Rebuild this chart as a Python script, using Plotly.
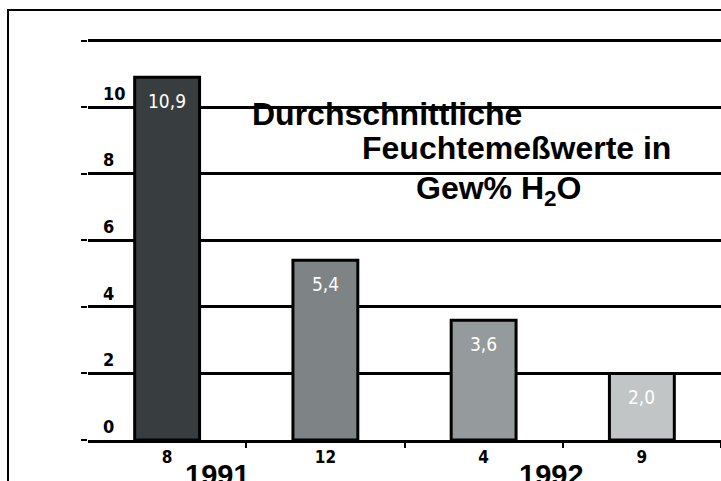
import plotly.graph_objects as go

# Data
sample_counts = ["8", "12", "4", "9"]          # x tick labels (number of samples)
moisture = [10.9, 5.4, 3.6, 2.0]               # Gew% H2O
bar_colors = ["#383d40", "#7e8485", "#959b9c", "#c2c5c5"]
years = ["1991", "1992"]
y_ticks = [0, 2, 4, 6, 8, 10, 12]
y_ticktext = ["0", "2", "4", "6", "8", "10", ""]
title_lines = ["Durchschnittliche", "Feuchtemeßwerte in", "Gew% H<sub>2</sub>O"]

W, H = 721, 481
ML, MR, MT, MB = 88, 0, 39, 41
PW, PH = W - ML - MR, H - MT - MB

def px_x(p):
    return (p - ML) / PW

def px_y(p):
    return (H - MB - p) / PH

fig = go.Figure()
fig.add_trace(go.Bar(
    x=sample_counts, y=moisture, width=0.41,
    marker=dict(color=bar_colors, line=dict(color="black", width=3)),
    hoverinfo="skip",
))

NARROW = "DejaVu Sans Condensed, Liberation Sans Narrow, Liberation Sans, Arial"

annotations = []
for i, v in enumerate(moisture):
    annotations.append(dict(
        x=i, y=v, xref="x", yref="y", text=f"{v:.1f}".replace(".", ","),
        showarrow=False, yshift=-24, yanchor="middle",
        font=dict(family=NARROW, size=19, color="white"),
    ))

year_pos = [0.32, 2.43]
for yr, xp in zip(years, year_pos):
    annotations.append(dict(
        x=xp, y=px_y(457), xref="x", yref="paper", text=f"<b>{yr}</b>",
        showarrow=False, xanchor="center", yanchor="top",
        font=dict(family="Liberation Sans, Arial", size=29, color="black"),
    ))

title_pos = [(250, 114, "left"), (360, 148, "left"), (498, 190, "center")]
for t, (tx, ty, anc) in zip(title_lines, title_pos):
    annotations.append(dict(
        x=px_x(tx), y=px_y(ty), xref="paper", yref="paper", text=f"<b>{t}</b>",
        showarrow=False, xanchor=anc, yanchor="middle",
        font=dict(family="Liberation Sans, Arial", size=32, color="black"),
    ))

fig.update_layout(
    width=W, height=H,
    margin=dict(l=ML, r=MR, t=MT, b=MB, pad=0),
    paper_bgcolor="white", plot_bgcolor="white",
    showlegend=False,
    annotations=annotations,
    xaxis=dict(
        type="category", range=[-0.5, 3.5],
        showgrid=False, showline=True, linecolor="black", linewidth=3,
        ticks="outside", tickson="boundaries", ticklen=5, tickwidth=2, tickcolor="black",
        tickfont=dict(family=NARROW, size=17, color="black", weight="bold"),
        fixedrange=True,
    ),
    yaxis=dict(
        range=[0, 12.05], tickvals=y_ticks, ticktext=y_ticktext,
        showgrid=True, gridcolor="black", gridwidth=3,
        zeroline=False, showline=False,
        ticks="outside", ticklen=6, tickwidth=2, tickcolor="black",
        ticklabelposition="inside top", ticklabelstandoff=12,
        tickfont=dict(family=NARROW, size=18, color="black", weight="bold"),
        fixedrange=True,
    ),
    shapes=[dict(
        type="rect", xref="paper", yref="paper",
        x0=px_x(8), y0=px_y(530), x1=px_x(760), y1=px_y(10),
        line=dict(color="black", width=2), fillcolor="rgba(0,0,0,0)", layer="above",
    )],
)

fig.write_html(
    "out.html",
    config={"displayModeBar": False},
    post_script="document.body.style.margin='0';document.body.style.overflow='hidden';",
)
